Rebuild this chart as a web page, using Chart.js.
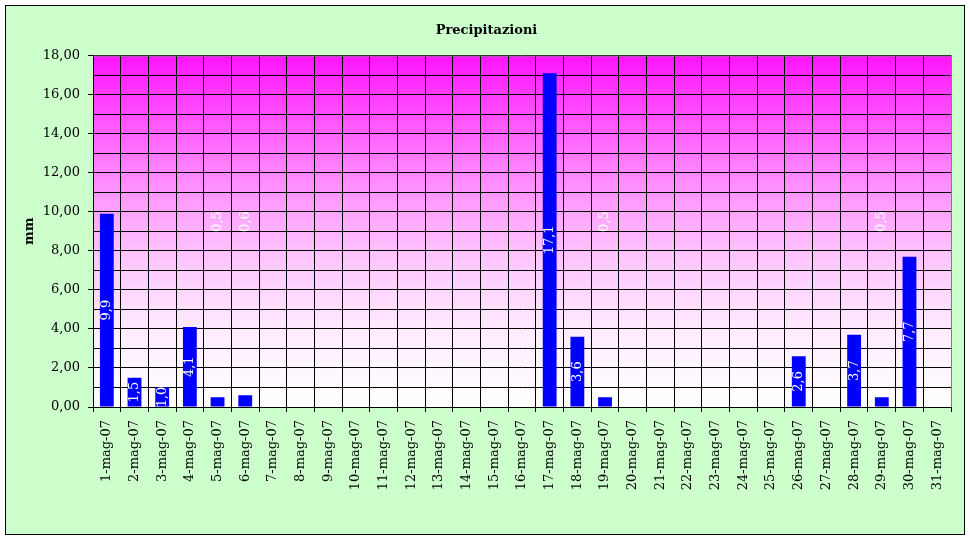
<!DOCTYPE html>
<html>
<head>
<meta charset="utf-8">
<script src="https://cdn.jsdelivr.net/npm/chart.js@4/dist/chart.umd.min.js"></script>
<style>
    html, body { margin: 0; padding: 0; background: #ffffff; }
    #wrap { width: 970px; height: 539px; }
</style>
</head>
<body>
<div id="wrap"><canvas id="rainChart" width="970" height="539"></canvas></div>
<script>
    // giorni di maggio 2007
    var dayLabels = [];
    for (var d = 1; d <= 31; d++) {
        dayLabels.push(d + '-mag-07');
    }
    // pioggia giornaliera (mm)
    var rainValues = [9.9, 1.5, 1.0, 4.1, 0.5, 0.6, 0, 0, 0, 0, 0, 0, 0, 0, 0, 0,
        17.1, 3.6, 0.5, 0, 0, 0, 0, 0, 0, 2.6, 0, 3.7, 0.5, 7.7, 0];
    var yMin = 0, yMax = 18;

    var serif = 'DejaVu Serif';

    function fmt(v, dec) {
        return v.toFixed(dec).replace('.', ',');
    }

    // sfondo verde con cornice nera + gradiente magenta nell'area del grafico
    var backgroundPlugin = {
        id: 'background',
        beforeDraw: function (chart) {
            var ctx = chart.ctx;
            var area = chart.chartArea;
            ctx.save();
            ctx.fillStyle = '#ffffff';
            ctx.fillRect(0, 0, chart.width, chart.height);
            ctx.fillStyle = '#ccffcc';
            ctx.fillRect(5, 5, 960, 530);
            ctx.strokeStyle = '#000000';
            ctx.lineWidth = 1;
            ctx.strokeRect(5.5, 5.5, 959, 529);

            var grad = ctx.createLinearGradient(0, area.top, 0, area.bottom);
            grad.addColorStop(0, '#ff14ff');
            grad.addColorStop(0.3, '#ff7cff');
            grad.addColorStop(0.55, '#ffc0ff');
            grad.addColorStop(0.8, '#ffeeff');
            grad.addColorStop(1, '#ffffff');
            ctx.fillStyle = grad;
            ctx.fillRect(area.left, area.top, area.right - area.left, area.bottom - area.top);
            ctx.restore();
        },
        afterDraw: function (chart) {
            var ctx = chart.ctx;
            var area = chart.chartArea;
            ctx.save();
            ctx.strokeStyle = '#808080';
            ctx.lineWidth = 1;
            ctx.beginPath();
            ctx.moveTo(area.left, area.top + 0.5);
            ctx.lineTo(area.right + 0.5, area.top + 0.5);
            ctx.lineTo(area.right + 0.5, area.bottom);
            ctx.stroke();
            ctx.restore();
        }
    };

    // etichette dei valori, ruotate, in bianco
    var valueLabelPlugin = {
        id: 'valueLabels',
        afterDatasetsDraw: function (chart) {
            var ctx = chart.ctx;
            var meta = chart.getDatasetMeta(0);
            var yScale = chart.scales.y;
            ctx.save();
            ctx.fillStyle = '#ffffff';
            ctx.font = '13px "' + serif + '"';
            ctx.textAlign = 'center';
            ctx.textBaseline = 'middle';
            meta.data.forEach(function (bar, i) {
                var v = rainValues[i];
                if (!v) return;
                var y;
                if (v < 1) {
                    y = yScale.getPixelForValue(9.5);
                } else {
                    y = (bar.y + bar.base) / 2;
                }
                ctx.save();
                ctx.translate(bar.x, y);
                ctx.rotate(-Math.PI / 2);
                ctx.fillText(fmt(v, 1), 0, 0);
                ctx.restore();
            });
            ctx.restore();
        }
    };

    var ctx = document.getElementById('rainChart').getContext('2d');
    var rainChart = new Chart(ctx, {
        type: 'bar',
        data: {
            labels: dayLabels,
            datasets: [{
                label: 'Precipitazioni',
                data: rainValues,
                backgroundColor: '#0000ff',
                borderWidth: 0,
                barPercentage: 0.5,
                categoryPercentage: 1.0
            }]
        },
        options: {
            responsive: false,
            animation: false,
            devicePixelRatio: 1,
            layout: {
                padding: { left: 22, right: 19, top: 10, bottom: 10 }
            },
            plugins: {
                legend: { display: false },
                tooltip: { enabled: false },
                title: {
                    display: true,
                    text: 'Precipitazioni',
                    color: '#000000',
                    font: { family: serif, size: 13, weight: 'bold' },
                    padding: { top: 13, bottom: 17 }
                }
            },
            scales: {
                x: {
                    offset: true,
                    grid: {
                        offset: true,
                        color: '#000000',
                        lineWidth: 1,
                        tickLength: 5,
                        tickColor: '#000000'
                    },
                    border: { color: '#000000', width: 1 },
                    ticks: {
                        color: '#000000',
                        font: { family: serif, size: 13 },
                        minRotation: 90,
                        maxRotation: 90,
                        autoSkip: false,
                        padding: 8
                    },
                    afterFit: function (scale) {
                        scale.height = 539 - 10 - 407;
                    }
                },
                y: {
                    min: yMin,
                    max: yMax,
                    grid: {
                        color: '#000000',
                        lineWidth: 1,
                        tickLength: 5,
                        tickColor: function (c) {
                            return c.tick && c.tick.value % 2 === 0 ? '#000000' : 'rgba(0,0,0,0)';
                        }
                    },
                    border: { color: '#000000', width: 1 },
                    ticks: {
                        stepSize: 1,
                        color: '#000000',
                        font: { family: serif, size: 13 },
                        padding: 8,
                        callback: function (value) {
                            return value % 2 === 0 ? fmt(value, 2) : '';
                        }
                    },
                    title: {
                        display: true,
                        text: 'mm',
                        color: '#000000',
                        font: { family: serif, size: 13, weight: 'bold' },
                        padding: 0
                    },
                    afterFit: function (scale) {
                        scale.width = 93 - 22;
                    }
                }
            }
        },
        plugins: [backgroundPlugin, valueLabelPlugin]
    });
</script>
</body>
</html>
